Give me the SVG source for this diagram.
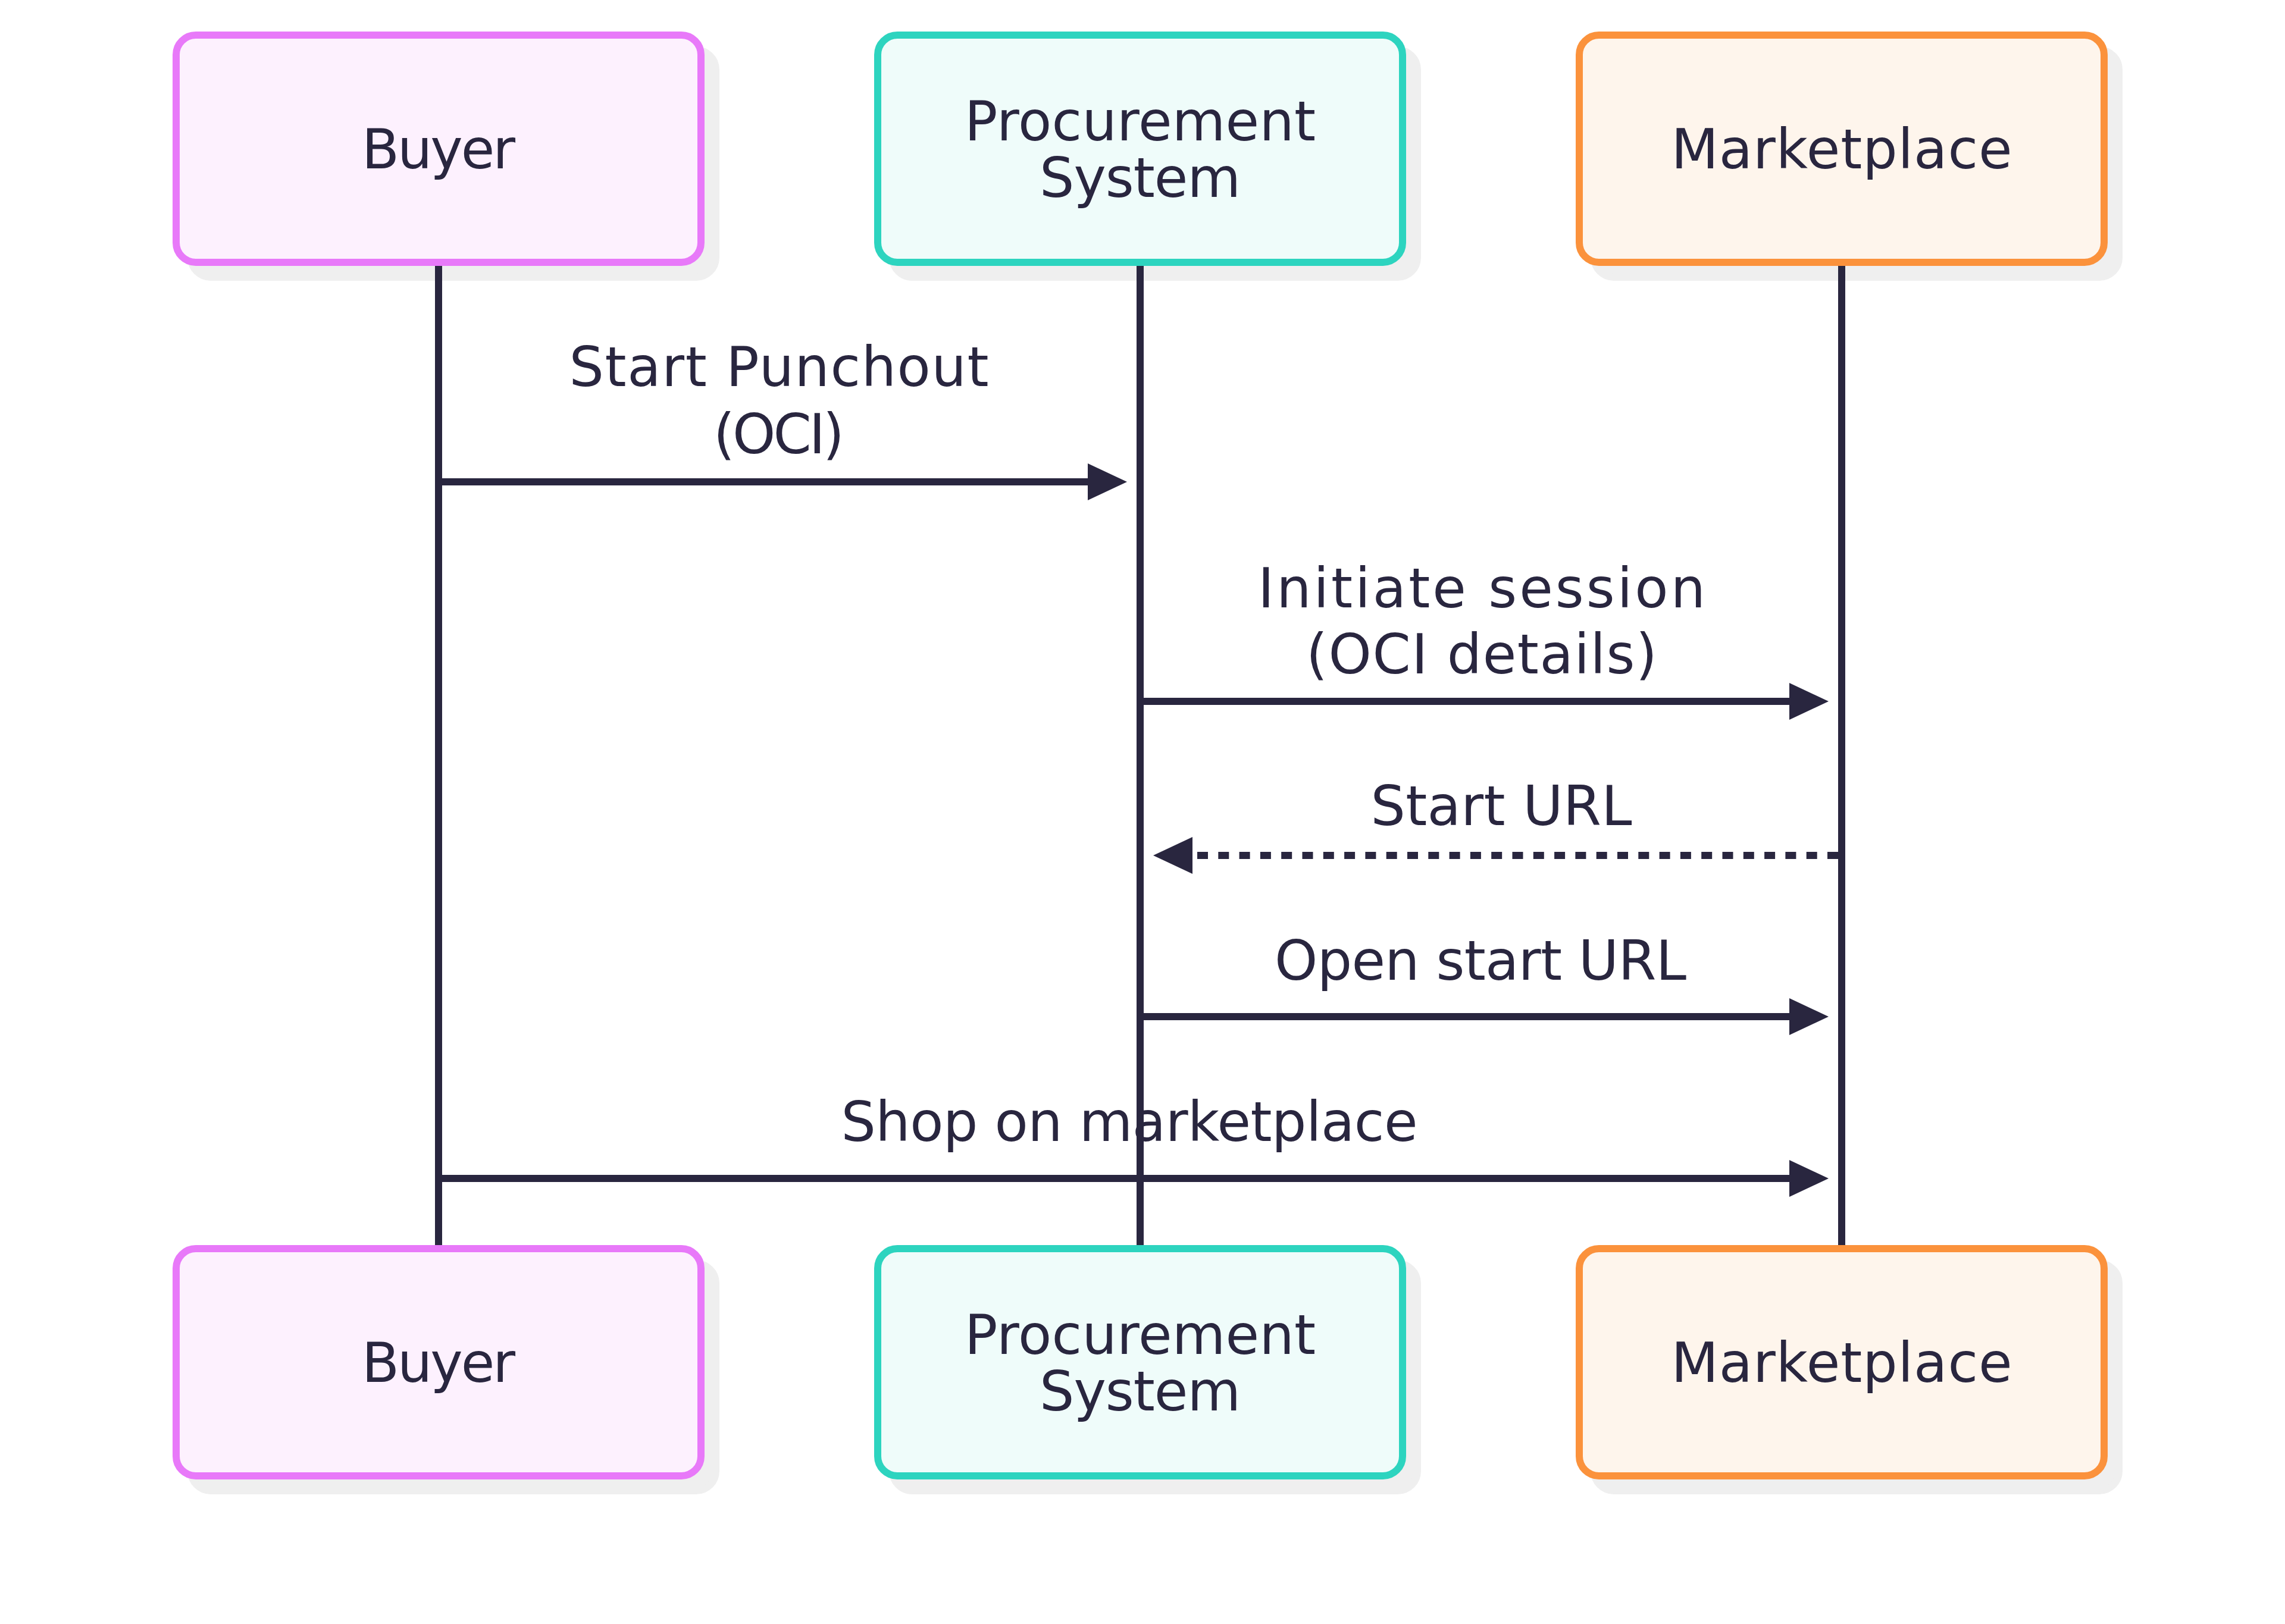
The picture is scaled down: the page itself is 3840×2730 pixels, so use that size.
<svg xmlns="http://www.w3.org/2000/svg" width="3840" height="2730" viewBox="0 0 3840 2730">
<defs>
<style>
.t{font-family:"DejaVu Sans","Noto Sans",sans-serif;font-size:92px;fill:#29263f;text-anchor:middle}
.sh{fill:#efefef;stroke:#efefef;stroke-width:12}
.box{stroke-width:12}
.buyer{fill:#fdf1fe;stroke:#e879f9}
.proc{fill:#effcfa;stroke:#2dd4bf}
.mkt{fill:#fef5ec;stroke:#fb923c}
.life{stroke:#29263f;stroke-width:12;fill:none}
.msg{stroke:#29263f;stroke-width:12;fill:none}
.dash{stroke-dasharray:18 17.3}
.head{fill:#29263f}
</style>
</defs>
<rect width="3840" height="2730" fill="#ffffff"/>

<g id="buyer-top">
<rect class="sh" x="321" y="84" width="882" height="382" rx="33"/>
<rect class="box buyer" x="296" y="59" width="882" height="382" rx="33"/>
<text class="t" x="737" y="283" textLength="258" lengthAdjust="spacing">Buyer</text>
</g>
<g id="procurement-top">
<rect class="sh" x="1500" y="84" width="882" height="382" rx="33"/>
<rect class="box proc" x="1475" y="59" width="882" height="382" rx="33"/>
<text class="t" x="1916" y="236" textLength="590" lengthAdjust="spacing">Procurement</text>
<text class="t" x="1916" y="331" textLength="338" lengthAdjust="spacing">System</text>
</g>
<g id="marketplace-top">
<rect class="sh" x="2679" y="84" width="882" height="382" rx="33"/>
<rect class="box mkt" x="2654" y="59" width="882" height="382" rx="33"/>
<text class="t" x="3095" y="283" textLength="573" lengthAdjust="spacing">Marketplace</text>
</g>

<g id="buyer-bottom">
<rect class="sh" x="321" y="2124" width="882" height="382" rx="33"/>
<rect class="box buyer" x="296" y="2099" width="882" height="382" rx="33"/>
<text class="t" x="737" y="2323" textLength="258" lengthAdjust="spacing">Buyer</text>
</g>
<g id="procurement-bottom">
<rect class="sh" x="1500" y="2124" width="882" height="382" rx="33"/>
<rect class="box proc" x="1475" y="2099" width="882" height="382" rx="33"/>
<text class="t" x="1916" y="2276" textLength="590" lengthAdjust="spacing">Procurement</text>
<text class="t" x="1916" y="2371" textLength="338" lengthAdjust="spacing">System</text>
</g>
<g id="marketplace-bottom">
<rect class="sh" x="2679" y="2124" width="882" height="382" rx="33"/>
<rect class="box mkt" x="2654" y="2099" width="882" height="382" rx="33"/>
<text class="t" x="3095" y="2323" textLength="573" lengthAdjust="spacing">Marketplace</text>
</g>

<g id="connectors">
<line class="life" x1="737" y1="447" x2="737" y2="2093"/>
<line class="life" x1="1916" y1="447" x2="1916" y2="2093"/>
<line class="life" x1="3095" y1="447" x2="3095" y2="2093"/>

<g id="m1">
<line class="msg" x1="737" y1="810" x2="1830" y2="810"/>
<polygon class="head" points="1828,779 1894,810 1828,841"/>
<text class="t" x="1309" y="649" textLength="705" lengthAdjust="spacing">Start Punchout</text>
<text class="t" x="1309" y="762" textLength="220" lengthAdjust="spacing">(OCI)</text>
</g>
<g id="m2">
<line class="msg" x1="1916" y1="1179" x2="3009" y2="1179"/>
<polygon class="head" points="3007,1148 3073,1179 3007,1210"/>
<text class="t" x="2490" y="1021" textLength="752" lengthAdjust="spacing">Initiate session</text>
<text class="t" x="2490" y="1132" textLength="590" lengthAdjust="spacing">(OCI details)</text>
</g>
<g id="m3">
<line class="msg dash" x1="3089" y1="1438" x2="2000" y2="1438"/>
<polygon class="head" points="2004,1407 1938,1438 2004,1469"/>
<text class="t" x="2523" y="1387" textLength="439" lengthAdjust="spacing">Start URL</text>
</g>
<g id="m4">
<line class="msg" x1="1916" y1="1709" x2="3009" y2="1709"/>
<polygon class="head" points="3007,1678 3073,1709 3007,1740"/>
<text class="t" x="2488" y="1647" textLength="692" lengthAdjust="spacing">Open start URL</text>
</g>
<g id="m5">
<line class="msg" x1="737" y1="1981" x2="3009" y2="1981"/>
<polygon class="head" points="3007,1950 3073,1981 3007,2012"/>
<text class="t" x="1898" y="1918" textLength="969" lengthAdjust="spacing">Shop on marketplace</text>
</g>
</g>
</svg>
